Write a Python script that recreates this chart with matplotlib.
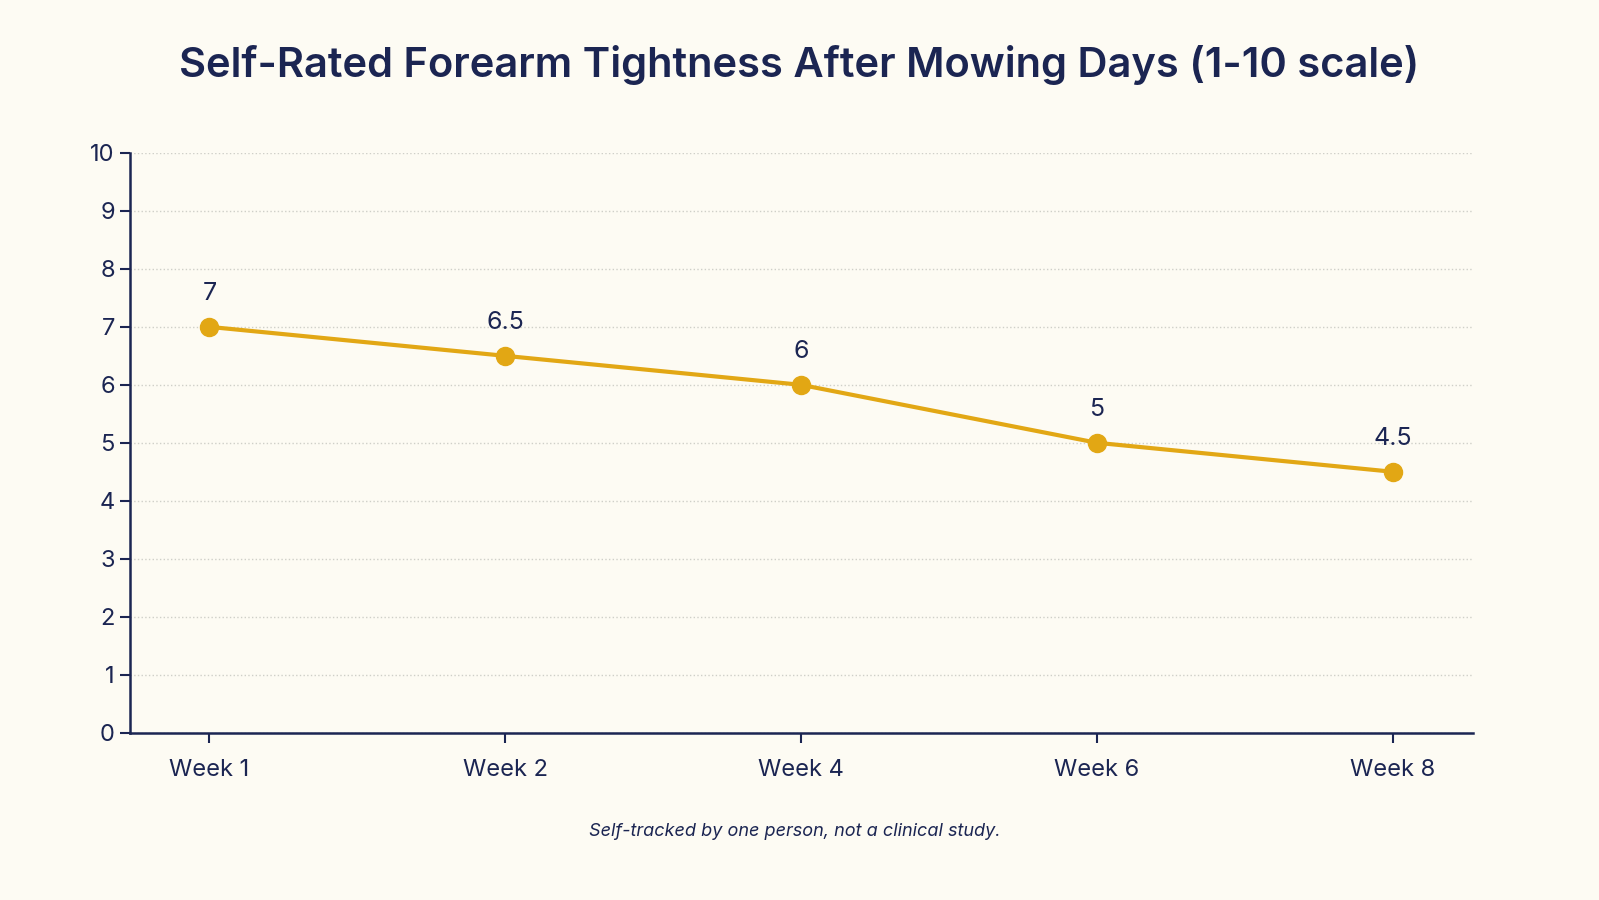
import matplotlib.pyplot as plt

plt.rcParams["font.family"] = ["Inter", "DejaVu Sans"]

# Data
weeks = ["Week 1", "Week 2", "Week 4", "Week 6", "Week 8"]
tightness = [7, 6.5, 6, 5, 4.5]

navy = "#1b2552"
gold = "#E2A714"
bg = "#FDFBF3"

fig = plt.figure(figsize=(15.99, 9), dpi=100, facecolor=bg)
ax = fig.add_axes([0.081, 0.186, 0.84, 0.644], facecolor=bg)

x = list(range(len(weeks)))
ax.plot(x, tightness, color=gold, lw=3, marker="o", ms=13, zorder=3)
for xi, v in zip(x, tightness):
    ax.annotate(f"{v:g}", (xi, v), xytext=(0, 16), textcoords="offset points",
                ha="center", va="bottom", fontsize=18, color=navy)

ax.set_xlim(-0.27, 4.27)
ax.set_ylim(0, 10)
ax.set_yticks(range(11))
ax.set_xticks(x)
ax.set_xticklabels(weeks)
ax.tick_params(axis="both", colors=navy, labelsize=17, length=7, width=1.5)
ax.tick_params(axis="x", pad=12)
ax.grid(axis="y", linestyle=":", color="#cfcfc8", lw=1)
for s in ["top", "right"]:
    ax.spines[s].set_visible(False)
for s in ["left", "bottom"]:
    ax.spines[s].set_color(navy)
    ax.spines[s].set_linewidth(1.8)

fig.text(0.5, 0.928, "Self-Rated Forearm Tightness After Mowing Days (1-10 scale)",
         ha="center", va="center", fontsize=30, fontweight="semibold", color=navy)
fig.text(0.497, 0.076, "Self-tracked by one person, not a clinical study.",
         ha="center", va="center", fontsize=13, style="italic", color=navy)

fig.savefig("out.png", dpi=100, facecolor=bg)
